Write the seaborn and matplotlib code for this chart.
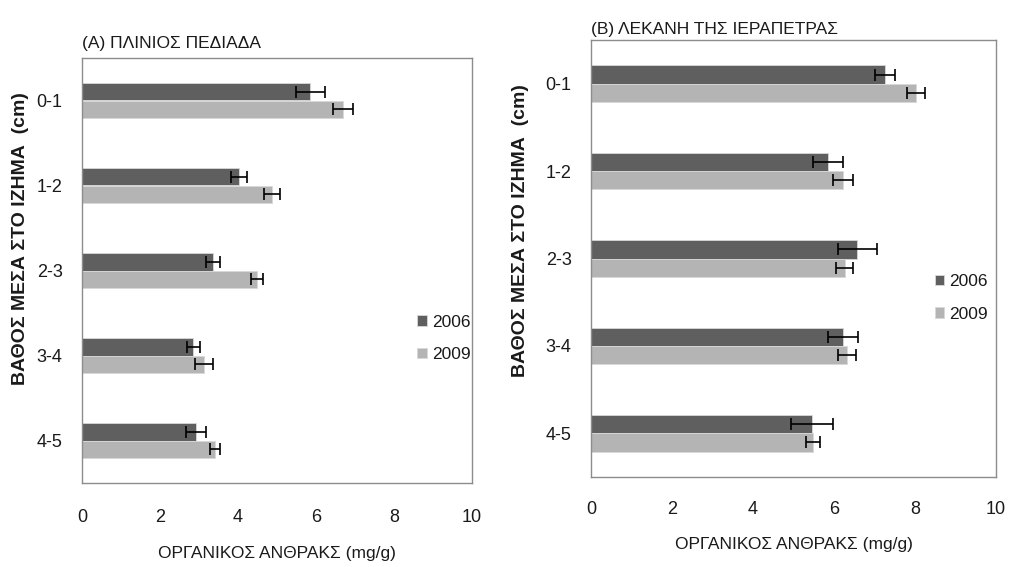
import matplotlib
matplotlib.use("Agg")
import matplotlib.pyplot as plt
import seaborn as sns
import pandas as pd
from matplotlib.ticker import FixedLocator

# data
depths = ["0-1", "1-2", "2-3", "3-4", "4-5"]
years = ["2006", "2009"]

pliniou_2006 = [5.85, 4.03, 3.36, 2.85, 2.92]
pliniou_2006_err = [0.37, 0.20, 0.18, 0.17, 0.26]
pliniou_2009 = [6.69, 4.87, 4.49, 3.13, 3.41]
pliniou_2009_err = [0.26, 0.20, 0.15, 0.22, 0.14]

ierapetra_2006 = [7.26, 5.85, 6.57, 6.22, 5.46]
ierapetra_2006_err = [0.25, 0.37, 0.48, 0.38, 0.52]
ierapetra_2009 = [8.02, 6.22, 6.27, 6.32, 5.48]
ierapetra_2009_err = [0.22, 0.25, 0.21, 0.22, 0.17]

xticks = [0, 2, 4, 6, 8, 10]
colors = ["#5f5f5f", "#b4b4b4"]

sns.set_style("white")
plt.rcParams["font.family"] = ["Liberation Sans", "DejaVu Sans"]
plt.rcParams["font.size"] = 13
plt.rcParams["text.color"] = "#1a1a1a"
plt.rcParams["axes.labelcolor"] = "#1a1a1a"
plt.rcParams["xtick.color"] = "#1a1a1a"
plt.rcParams["ytick.color"] = "#1a1a1a"


def make_df(v06, v09):
    return pd.DataFrame({
        "depth": depths * 2,
        "year": [years[0]] * len(depths) + [years[1]] * len(depths),
        "value": v06 + v09,
    })


def draw_panel(ax, v06, e06, v09, e09, title, title_xy, leg_xy, xpad, ylab_xy):
    df = make_df(v06, v09)
    sns.barplot(data=df, y="depth", x="value", hue="year", order=depths,
                hue_order=years, palette=colors, width=0.42, errorbar=None,
                orient="h", ax=ax, edgecolor="#d8d8d8", linewidth=0.6)
    # error bars from the bar geometry
    for cont, errs in zip(ax.containers, [e06, e09]):
        for bar, err in zip(cont, errs):
            ax.errorbar(bar.get_width(), bar.get_y() + bar.get_height() / 2,
                        xerr=err, fmt="none", ecolor="black", elinewidth=1.2,
                        capsize=4, capthick=1.2)
    ax.set_xlim(0, 10)
    ax.set_ylim(len(depths) - 0.5, -0.5)
    ax.set_xticks(xticks)
    ax.set_xticklabels([str(t) for t in xticks])
    ax.tick_params(axis="x", direction="out", length=5, width=0.8,
                   color="#8c8c8c", pad=xpad, labelsize=13)
    ax.tick_params(axis="y", which="major", length=0, pad=14, labelsize=13)
    ax.yaxis.set_minor_locator(FixedLocator([i + 0.5 for i in range(-1, len(depths))]))
    ax.tick_params(axis="y", which="minor", direction="out", length=6,
                   width=0.8, color="#8c8c8c")
    for s in ax.spines.values():
        s.set_visible(True)
        s.set_color("#8c8c8c")
        s.set_linewidth(1.0)
    ax.set_xlabel("ΟΡΓΑΝΙΚΟΣ ΑΝΘΡΑΚΣ (mg/g)", fontsize=12.5, labelpad=14)
    ax.set_ylabel("ΒΑΘΟΣ ΜΕΣΑ ΣΤΟ ΙΖΗΜΑ  (cm)", fontsize=14, fontweight="bold")
    ax.yaxis.set_label_coords(*ylab_xy)
    ax.text(title_xy[0], title_xy[1], title, transform=ax.transAxes,
            fontsize=12.5, ha="left", va="center")
    handles, labels = ax.get_legend_handles_labels()
    ax.legend(handles, labels, loc="center left", bbox_to_anchor=leg_xy,
              frameon=False, handlelength=0.55, handleheight=0.55,
              handletextpad=0.3, labelspacing=1.0, fontsize=12.5)


fig = plt.figure(figsize=(10.11, 5.67), dpi=100)
ax1 = fig.add_axes([82 / 1011, 84 / 567, 390 / 1011, 425 / 567])
ax2 = fig.add_axes([591 / 1011, 90 / 567, 405 / 1011, 437 / 567])

draw_panel(ax1, pliniou_2006, pliniou_2006_err, pliniou_2009, pliniou_2009_err,
           "(A) ΠΛΙΝΙΟΣ ΠΕΔΙΑΔΑ", (0.0, 1.035), (0.82, 0.34), 14, (-0.136, 0.576))
draw_panel(ax2, ierapetra_2006, ierapetra_2006_err, ierapetra_2009, ierapetra_2009_err,
           "(B) ΛΕΚΑΝΗ ΤΗΣ ΙΕΡΑΠΕΤΡΑΣ", (0.0, 1.025), (0.81, 0.41), 12, (-0.153, 0.565))

fig.savefig("out.png", dpi=100, facecolor="white")
